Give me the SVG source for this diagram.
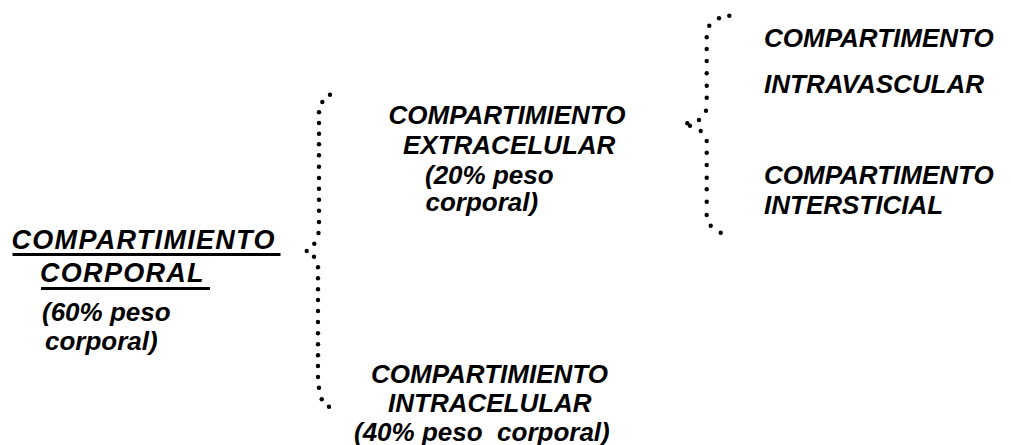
<svg xmlns="http://www.w3.org/2000/svg" width="1011" height="445" viewBox="0 0 1011 445">
<style>
text{font-family:"Liberation Sans",Arial,sans-serif;font-weight:bold;font-style:italic;font-size:26px;fill:#000}
.big{font-size:27px;letter-spacing:1.3px}
.d{fill:#000}
</style>
<rect width="1011" height="445" fill="#fff"/>
<g id="connectors">
<g id="brace-left" class="d">
<circle cx="330" cy="94.7" r="2.2"/><circle cx="322.3" cy="102" r="2.2"/>
<circle cx="319" cy="112.3" r="2.2"/><circle cx="319" cy="123" r="2.2"/><circle cx="319" cy="133.7" r="2.2"/><circle cx="319" cy="144.3" r="2.2"/><circle cx="319" cy="155.3" r="2.2"/><circle cx="319" cy="166.7" r="2.2"/><circle cx="319" cy="178" r="2.2"/><circle cx="319" cy="188.7" r="2.2"/><circle cx="319" cy="199.7" r="2.2"/><circle cx="319" cy="210.7" r="2.2"/><circle cx="319" cy="222" r="2.2"/><circle cx="318.5" cy="233" r="2.2"/>
<circle cx="314.3" cy="243.7" r="2.2"/><circle cx="306.7" cy="251" r="2.2"/><circle cx="314" cy="256.7" r="2.2"/>
<circle cx="318" cy="267.3" r="2.2"/><circle cx="318" cy="278.3" r="2.2"/><circle cx="318" cy="289.3" r="2.2"/><circle cx="318" cy="300" r="2.2"/><circle cx="318" cy="311" r="2.2"/><circle cx="318" cy="322" r="2.2"/><circle cx="318" cy="333.3" r="2.2"/><circle cx="318" cy="344.3" r="2.2"/><circle cx="318" cy="355.3" r="2.2"/><circle cx="318" cy="366" r="2.2"/><circle cx="318" cy="377" r="2.2"/><circle cx="319" cy="387.7" r="2.2"/>
<circle cx="321.7" cy="399.3" r="2.2"/><circle cx="329" cy="406.7" r="2.2"/>
</g>
<g id="brace-right" class="d">
<circle cx="729.3" cy="15.7" r="2.2"/><circle cx="719" cy="18.3" r="2.2"/><circle cx="709.3" cy="25.7" r="2.2"/>
<circle cx="706.7" cy="37.3" r="2.2"/><circle cx="706.7" cy="49" r="2.2"/><circle cx="706.7" cy="61" r="2.2"/><circle cx="706.7" cy="73.3" r="2.2"/><circle cx="706.7" cy="85.7" r="2.2"/><circle cx="706.7" cy="97.7" r="2.2"/><circle cx="706" cy="110.7" r="2.2"/>
<circle cx="699" cy="120" r="2.2"/><circle cx="687.3" cy="123.3" r="2.2"/><circle cx="690" cy="125.7" r="2.2"/><circle cx="700.7" cy="131" r="2.2"/>
<circle cx="706.7" cy="141" r="2.2"/><circle cx="706.7" cy="152.7" r="2.2"/><circle cx="706.7" cy="165" r="2.2"/><circle cx="706.7" cy="177.7" r="2.2"/><circle cx="706.7" cy="189.3" r="2.2"/><circle cx="706.7" cy="201.7" r="2.2"/><circle cx="706.7" cy="215" r="2.2"/>
<circle cx="710.7" cy="225.7" r="2.2"/><circle cx="720.7" cy="232.7" r="2.2"/>
</g>
</g>
<g id="node-corporal">
<text x="11.5" y="248.5" class="big">COMPARTIMIENTO</text>
<rect x="12.5" y="253" width="268" height="3"/>
<text x="40" y="282" class="big">CORPORAL</text>
<rect x="41" y="287" width="169" height="3"/>
<text x="42" y="321">(60% peso</text>
<text x="45" y="350">corporal)</text>
</g>
<g id="node-extracelular">
<text x="388.5" y="123.5">COMPARTIMIENTO</text>
<text x="403" y="153.5">EXTRACELULAR</text>
<text x="425" y="183.5">(20% peso</text>
<text x="425.5" y="210.5">corporal)</text>
</g>
<g id="node-intracelular">
<text x="371" y="383">COMPARTIMIENTO</text>
<text x="388" y="412">INTRACELULAR</text>
<text x="354" y="441" xml:space="preserve">(40% peso  corporal)</text>
</g>
<g id="node-intravascular">
<text x="764" y="46.7">COMPARTIMENTO</text>
<text x="764" y="93.3">INTRAVASCULAR</text>
</g>
<g id="node-intersticial">
<text x="764" y="183.5">COMPARTIMENTO</text>
<text x="764" y="213.5">INTERSTICIAL</text>
</g>
</svg>
